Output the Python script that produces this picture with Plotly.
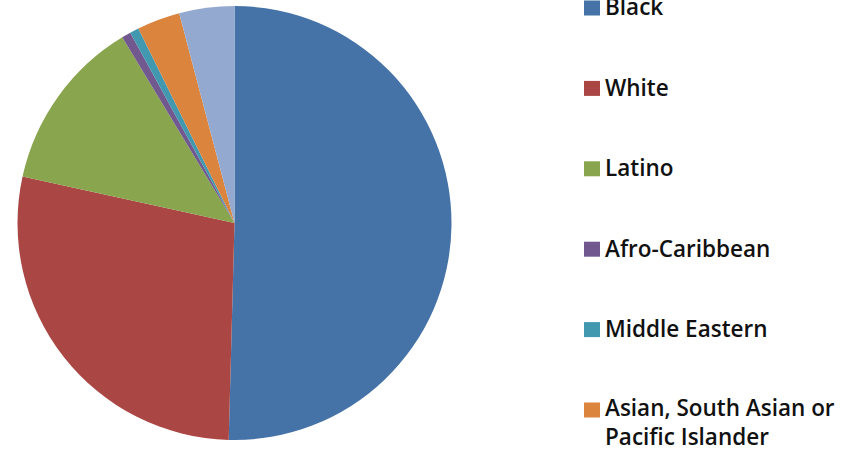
import plotly.graph_objects as go

labels = ["Black", "White", "Latino", "Afro-Caribbean", "Middle Eastern",
          "Asian, South Asian or<br>Pacific Islander", "Other"]
values = [50.4, 28.0, 12.9, 0.68, 0.67, 3.2, 4.1]
colors = ["#4572A7", "#AA4643", "#89A54E", "#71588F", "#4198AF", "#DB843D", "#93A9CF"]

W, H = 854, 450
FS = 22.5

fig = go.Figure(go.Pie(
    labels=labels, values=values, sort=False, direction="clockwise", rotation=0,
    marker=dict(colors=colors, line=dict(width=0)),
    textinfo="none", hoverinfo="label+percent",
    domain=dict(x=[17 / W, 452 / W], y=[10 / H, 444 / H]),
    showlegend=False,
))

# legend drawn manually (reference legend is cropped after 6 entries)
shapes, annos = [], []
for i in range(6):
    yc = 8 + i * 80.4
    nlines = labels[i].count("<br>") + 1
    shapes.append(dict(type="rect", xref="paper", yref="paper",
                       x0=584 / W, x1=600 / W,
                       y0=1 - (yc - 7.5) / H, y1=1 - (yc + 7.5) / H,
                       fillcolor=colors[i], line=dict(width=0)))
    ty = yc + (nlines - 1) * (1.3 * FS / 2 - 2) - 1
    annos.append(dict(xref="paper", yref="paper", x=603 / W, y=1 - ty / H,
                      xanchor="left", yanchor="middle", showarrow=False,
                      text=labels[i], align="left",
                      font=dict(family="Open Sans", size=FS, weight=600, color="#111111")))

fig.update_layout(
    width=W, height=H, margin=dict(l=0, r=0, t=0, b=0),
    paper_bgcolor="white", plot_bgcolor="white",
    shapes=shapes, annotations=annos,
)
fig.write_html("out.html", config={"displayModeBar": False},
               post_script="document.body.style.margin='0';")
